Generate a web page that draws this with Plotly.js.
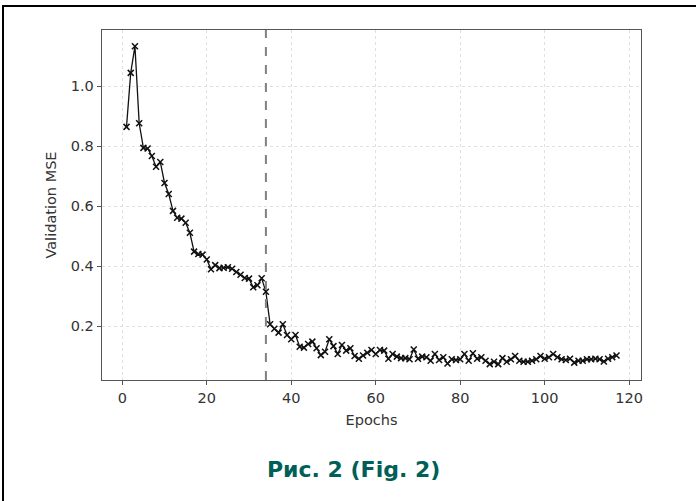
<!DOCTYPE html>
<html>
<head>
<meta charset="utf-8">
<script src="https://cdn.plot.ly/plotly-3.0.1.min.js"></script>
<style>
  html, body { margin: 0; padding: 0; background: #fff; }
  #wrap { position: relative; width: 696px; height: 501px; overflow: hidden; }
  #frame { position: absolute; left: 2px; top: 5px; width: 720px; height: 520px;
           border-left: 2px solid #000; border-top: 2px solid #000; pointer-events: none; }
  #chart { position: absolute; left: 0; top: 0; width: 696px; height: 501px; }
</style>
</head>
<body>
<div id="wrap">
  <div id="chart"></div>
  <div id="frame"></div>
</div>
<script>
// Epoch numbers 1..117 (listed explicitly)
const epochs = [
  1,2,3,4,5,6,7,8,9,10,11,12,13,14,15,16,17,18,19,20,
  21,22,23,24,25,26,27,28,29,30,31,32,33,34,35,36,37,38,39,40,
  41,42,43,44,45,46,47,48,49,50,51,52,53,54,55,56,57,58,59,60,
  61,62,63,64,65,66,67,68,69,70,71,72,73,74,75,76,77,78,79,80,
  81,82,83,84,85,86,87,88,89,90,91,92,93,94,95,96,97,98,99,100,
  101,102,103,104,105,106,107,108,109,110,111,112,113,114,115,116,117
];

// Validation MSE
const validationMSE = [
  0.864,1.044,1.133,0.876,0.794,0.792,0.767,0.731,0.747,0.677,
  0.640,0.584,0.561,0.558,0.544,0.511,0.448,0.440,0.438,0.422,
  0.389,0.403,0.393,0.394,0.396,0.391,0.380,0.371,0.360,0.358,
  0.329,0.336,0.359,0.314,0.206,0.191,0.178,0.206,0.170,0.156,
  0.170,0.131,0.128,0.140,0.148,0.126,0.103,0.114,0.156,0.133,
  0.107,0.137,0.118,0.126,0.100,0.091,0.102,0.111,0.120,0.107,
  0.120,0.118,0.091,0.107,0.098,0.093,0.093,0.089,0.122,0.091,
  0.098,0.096,0.084,0.107,0.087,0.096,0.075,0.089,0.087,0.089,
  0.107,0.084,0.109,0.091,0.096,0.084,0.073,0.081,0.073,0.093,
  0.081,0.089,0.100,0.084,0.081,0.081,0.084,0.089,0.100,0.091,
  0.096,0.107,0.096,0.089,0.087,0.091,0.078,0.084,0.084,0.089,
  0.089,0.091,0.089,0.082,0.091,0.096,0.102
];

const markerEpoch = 34;   // dashed vertical line
const xTicks = [0, 20, 40, 60, 80, 100, 120];
const yTicks = [0.2, 0.4, 0.6, 0.8, 1.0];
const xLabel = 'Epochs';
const yLabel = 'Validation MSE';
const caption = 'Рис. 2 (Fig. 2)';

const trace = {
  x: epochs,
  y: validationMSE,
  type: 'scatter',
  mode: 'lines+markers',
  line: { color: '#111', width: 1.3 },
  marker: { symbol: 'x-thin', size: 6, color: '#111', line: { color: '#111', width: 1.5 } },
  hoverinfo: 'skip'
};

const axisFont = { family: 'DejaVu Sans, sans-serif', size: 14.5, color: '#333' };

const layout = {
  width: 696,
  height: 501,
  margin: { l: 102, r: 55, t: 30, b: 121 },
  paper_bgcolor: '#fff',
  plot_bgcolor: '#fff',
  showlegend: false,
  font: axisFont,
  xaxis: {
    range: [-4.8, 122.8],
    tickvals: xTicks,
    ticktext: xTicks.map(String),
    ticks: 'outside', ticklen: 4, tickwidth: 1, tickcolor: '#555',
    showline: true, linecolor: '#555', linewidth: 1.3, mirror: true,
    showgrid: true, gridcolor: '#e0e0e0', griddash: 'dot', gridwidth: 1,
    zeroline: false,
    tickfont: axisFont,
    title: { text: xLabel, font: axisFont, standoff: 10 }
  },
  yaxis: {
    range: [0.02, 1.187],
    tickvals: yTicks,
    ticktext: yTicks.map(v => v.toFixed(1)),
    ticks: 'outside', ticklen: 4, tickwidth: 1, tickcolor: '#555',
    showline: true, linecolor: '#555', linewidth: 1.3, mirror: true,
    showgrid: true, gridcolor: '#e0e0e0', griddash: 'dot', gridwidth: 1,
    zeroline: false,
    tickfont: axisFont,
    title: { text: yLabel, font: axisFont, standoff: 10 }
  },
  shapes: [{
    type: 'line', xref: 'x', yref: 'paper',
    x0: markerEpoch, x1: markerEpoch, y0: 0, y1: 1,
    line: { color: '#808080', width: 2, dash: 'dash' }
  }],
  annotations: [{
    text: '<b>' + caption + '</b>',
    xref: 'paper', yref: 'paper',
    x: 0.466, y: -0.257,
    xanchor: 'center', yanchor: 'middle',
    showarrow: false,
    font: { family: 'DejaVu Sans, sans-serif', size: 22, color: '#005f57' }
  }]
};

Plotly.newPlot('chart', [trace], layout, { staticPlot: true, displayModeBar: false });
</script>
</body>
</html>
